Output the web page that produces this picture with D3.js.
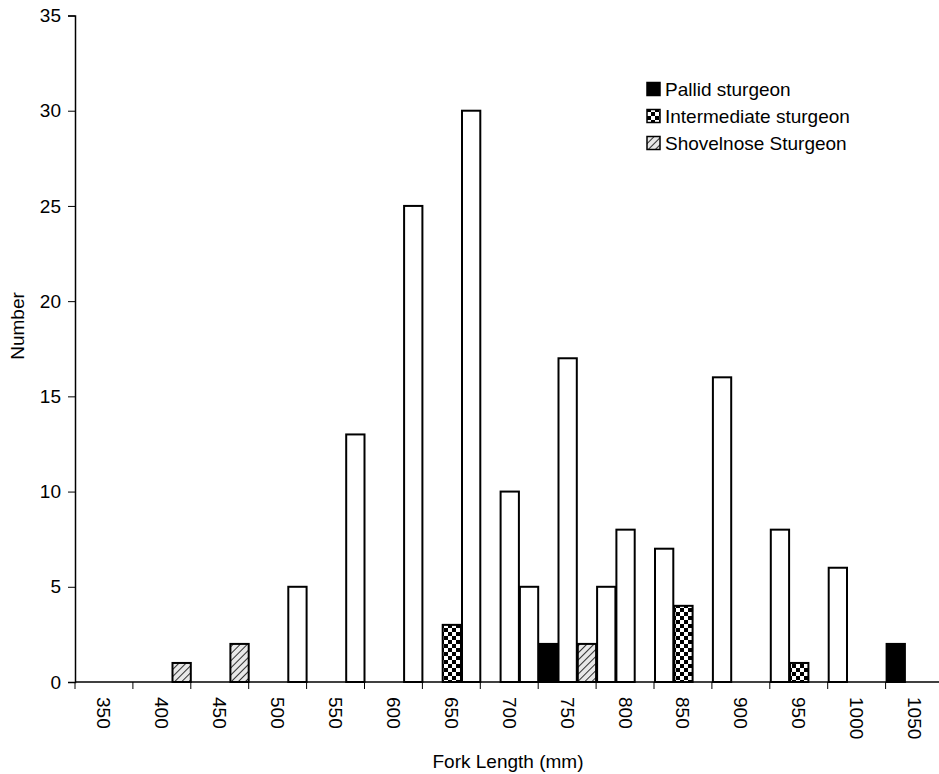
<!DOCTYPE html>
<html>
<head>
<meta charset="utf-8">
<script src="https://cdn.jsdelivr.net/npm/d3@7"></script>
<style>
  body { margin: 0; background: #fff; }
  svg text { font-family: "Liberation Sans", Arial, sans-serif; fill: #000; }
</style>
</head>
<body>
<div id="vis"></div>
<script>
// fork length classes (mm)
var categories = [350, 400, 450, 500, 550, 600, 650, 700, 750, 800, 850, 900, 950, 1000, 1050];

// counts per class; "open" ones are the bars printed without fill pattern
var pallid           = [0, 0, 0, 0, 0, 0, 0, 0, 2, 0, 0, 0, 0, 0, 2];
var pallidOpen       = [0, 0, 0, 0, 0, 0, 0, 0, 0, 5, 7, 16, 8, 6, 0];
var intermediate     = [0, 0, 0, 0, 0, 0, 3, 0, 0, 0, 4, 0, 1, 0, 0];
var intermediateOpen = [0, 0, 0, 0, 0, 0, 0, 10, 17, 8, 0, 0, 0, 0, 0];
var shovelnose       = [0, 1, 2, 0, 0, 0, 0, 0, 2, 0, 0, 0, 0, 0, 0];
var shovelnoseOpen   = [0, 0, 0, 5, 13, 25, 30, 5, 0, 0, 0, 0, 0, 0, 0];

var yTicks = [0, 5, 10, 15, 20, 25, 30, 35];
var seriesNames = ["Pallid sturgeon", "Intermediate sturgeon", "Shovelnose Sturgeon"];

var width = 939, height = 774;
var plotLeft = 75, plotTop = 15.5, plotBottom = 682;

var svg = d3.select("#vis").append("svg")
  .attr("width", width)
  .attr("height", height);

// fill patterns
var defs = svg.append("defs");
var checker = defs.append("pattern")
  .attr("id", "checker")
  .attr("patternUnits", "userSpaceOnUse")
  .attr("width", 8).attr("height", 8);
checker.append("rect").attr("width", 8).attr("height", 8).attr("fill", "#fff");
checker.append("rect").attr("width", 4).attr("height", 4).attr("fill", "#000");
checker.append("rect").attr("x", 4).attr("y", 4).attr("width", 4).attr("height", 4).attr("fill", "#000");

var hatch = defs.append("pattern")
  .attr("id", "hatch")
  .attr("patternUnits", "userSpaceOnUse")
  .attr("width", 5).attr("height", 5)
  .attr("patternTransform", "rotate(45)");
hatch.append("rect").attr("width", 5).attr("height", 5).attr("fill", "#e8e8e8");
hatch.append("line").attr("x1", 0).attr("y1", 0).attr("x2", 0).attr("y2", 5)
  .attr("stroke", "#000").attr("stroke-width", 1.6);

var fills = ["#000", "url(#checker)", "url(#hatch)"];

var x = d3.scaleBand()
  .domain(categories)
  .range([plotLeft, plotLeft + 15 * 57.9])
  .padding(0);

var slot = d3.scaleBand()
  .domain([0, 1, 2])
  .range([0, x.bandwidth()])
  .padding(0);

var y = d3.scaleLinear()
  .domain([0, 35])
  .range([plotBottom, plotTop]);

// one row per bar
var bars = [];
var sets = [[pallid, pallidOpen], [intermediate, intermediateOpen], [shovelnose, shovelnoseOpen]];
sets.forEach(function(s, si) {
  categories.forEach(function(c, i) {
    if (s[0][i] > 0) bars.push({cat: c, slot: si, value: s[0][i], fill: fills[si]});
    if (s[1][i] > 0) bars.push({cat: c, slot: si, value: s[1][i], fill: "#fff"});
  });
});

svg.append("g").selectAll("rect")
  .data(bars)
  .enter().append("rect")
  .attr("x", function(d) { return x(d.cat) + slot(d.slot) + 1; })
  .attr("y", function(d) { return y(d.value); })
  .attr("width", slot.bandwidth() - 1)
  .attr("height", function(d) { return y(0) - y(d.value); })
  .attr("fill", function(d) { return d.fill; })
  .attr("stroke", "#000")
  .attr("stroke-width", 2);

// y axis
var yAxis = svg.append("g")
  .attr("transform", "translate(" + plotLeft + ",0)")
  .call(d3.axisLeft(y).tickValues(yTicks).tickSize(7).tickPadding(7));
yAxis.select(".domain").attr("stroke-width", 1.5);
yAxis.selectAll("text").style("font-size", "19px");

// x axis: ticks on class boundaries
var xg = svg.append("g");
xg.append("line")
  .attr("x1", plotLeft).attr("x2", width)
  .attr("y1", plotBottom).attr("y2", plotBottom)
  .attr("stroke", "#000").attr("stroke-width", 1.5);
xg.selectAll(".tick")
  .data(categories)
  .enter().append("line")
  .attr("x1", function(d) { return x(d); })
  .attr("x2", function(d) { return x(d); })
  .attr("y1", plotBottom).attr("y2", plotBottom + 7)
  .attr("stroke", "#000");
xg.selectAll(".lab")
  .data(categories)
  .enter().append("text")
  .attr("transform", function(d) {
    return "translate(" + (x(d) + x.bandwidth() / 2) + "," + (plotBottom + 15) + ") rotate(90)";
  })
  .attr("dominant-baseline", "central")
  .style("font-size", "19px")
  .text(function(d) { return d; });

// axis titles
svg.append("text")
  .attr("x", 508).attr("y", 768)
  .attr("text-anchor", "middle")
  .style("font-size", "19px")
  .text("Fork Length (mm)");

svg.append("text")
  .attr("transform", "translate(24,326) rotate(-90)")
  .attr("text-anchor", "middle")
  .style("font-size", "19px")
  .text("Number");

// legend
var legend = svg.append("g").attr("transform", "translate(647,89)");
var li = legend.selectAll("g")
  .data(seriesNames)
  .enter().append("g")
  .attr("transform", function(d, i) { return "translate(0," + (i * 27) + ")"; });
li.append("rect")
  .attr("x", 0).attr("y", -6.5)
  .attr("width", 13).attr("height", 13)
  .attr("fill", function(d, i) { return fills[i]; })
  .attr("stroke", "#000")
  .attr("stroke-width", 1.5);
li.append("text")
  .attr("x", 18).attr("y", 0)
  .attr("dominant-baseline", "central")
  .style("font-size", "19px")
  .text(function(d) { return d; });
</script>
</body>
</html>
